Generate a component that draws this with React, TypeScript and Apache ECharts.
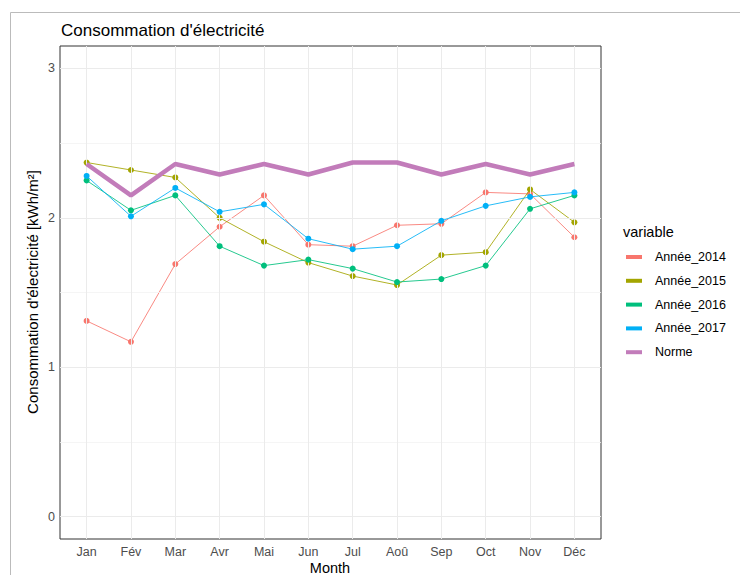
import React, { useEffect, useRef } from "react";
import * as echarts from "echarts";

const months = ["Jan", "Fév", "Mar", "Avr", "Mai", "Jun", "Jul", "Aoû", "Sep", "Oct", "Nov", "Déc"];
const yTicks = [0, 1, 2, 3];
const yMinorGrid = [0.5, 1.5, 2.5];

const annee2014 = [1.31, 1.17, 1.69, 1.94, 2.15, 1.82, 1.81, 1.95, 1.96, 2.17, 2.16, 1.87];
const annee2015 = [2.37, 2.32, 2.27, 2.0, 1.84, 1.7, 1.61, 1.55, 1.75, 1.77, 2.19, 1.97];
const annee2016 = [2.25, 2.05, 2.15, 1.81, 1.68, 1.72, 1.66, 1.57, 1.59, 1.68, 2.06, 2.15];
const annee2017 = [2.28, 2.01, 2.2, 2.04, 2.09, 1.86, 1.79, 1.81, 1.98, 2.08, 2.14, 2.17];
const norme = [2.36, 2.15, 2.36, 2.29, 2.36, 2.29, 2.37, 2.37, 2.29, 2.36, 2.29, 2.36];

const seriesNames = ["Année_2014", "Année_2015", "Année_2016", "Année_2017", "Norme"];
const seriesValues = [annee2014, annee2015, annee2016, annee2017, norme];
const colors = ["#F8766D", "#A3A500", "#00BF7D", "#00B0F6", "#C27CBA"];

const FONT = "Liberation Sans, Arial, sans-serif";

export default function App() {
  const ref = useRef<HTMLDivElement>(null);
  useEffect(() => {
    if (!ref.current) return;
    const chart = echarts.init(ref.current, undefined, { renderer: "svg" });
    const idx = months.map((_, i) => i);

    const lineSeries = seriesNames.map((name, k) => {
      const isNorme = name === "Norme";
      return {
        name,
        type: "line",
        z: 3 + k,
        data: seriesValues[k].map((v, i) => [i, v]),
        showSymbol: !isNorme,
        symbol: "circle",
        symbolSize: 6,
        itemStyle: { color: colors[k], borderWidth: 0 },
        lineStyle: { color: colors[k], width: isNorme ? 4.5 : 1, opacity: isNorme ? 1 : 0.85 },
        emphasis: { disabled: true },
      };
    });

    const gridSeries = {
      name: "grid",
      type: "line",
      data: [],
      z: 1,
      silent: true,
      markLine: {
        silent: true,
        symbol: "none",
        animation: false,
        label: { show: false },
        data: [
          ...yTicks.map((v) => ({ yAxis: v, lineStyle: { color: "#ebebeb", width: 1, type: "solid" } })),
          ...yMinorGrid.map((v) => ({ yAxis: v, lineStyle: { color: "#f2f2f2", width: 0.8, type: "solid" } })),
          ...idx.map((v) => ({ xAxis: v, lineStyle: { color: "#ebebeb", width: 1, type: "solid" } })),
        ],
      },
    };

    chart.setOption({
      animation: false,
      textStyle: { fontFamily: FONT },
      grid: {
        left: 60,
        top: 46,
        width: 541,
        height: 493,
        show: true,
        borderColor: "#333333",
        borderWidth: 1,
        backgroundColor: "#ffffff",
        containLabel: false,
      },
      xAxis: {
        type: "value",
        min: -0.6,
        max: 11.6,
        axisLine: { show: false },
        splitLine: { show: false },
        axisTick: { show: true, customValues: idx, length: 3, lineStyle: { color: "#333333" } },
        axisLabel: {
          customValues: idx,
          formatter: (v: number) => months[Math.round(v)] ?? "",
          color: "#4d4d4d",
          fontSize: 12.5,
          margin: 6,
          fontFamily: FONT,
        },
      },
      yAxis: {
        type: "value",
        min: -0.15,
        max: 3.15,
        axisLine: { show: false },
        splitLine: { show: false },
        axisTick: { show: true, customValues: yTicks, length: 3, lineStyle: { color: "#333333" } },
        axisLabel: {
          customValues: yTicks,
          formatter: (v: number) => String(v),
          color: "#4d4d4d",
          fontSize: 12.5,
          margin: 5,
          fontFamily: FONT,
        },
      },
      legend: {
        data: seriesNames,
        orient: "vertical",
        left: 626,
        top: 250,
        padding: 0,
        itemGap: 9.8,
        itemWidth: 16,
        itemHeight: 4,
        icon: "rect",
        selectedMode: false,
        textStyle: { color: "#000000", fontSize: 12.5, lineHeight: 14, fontFamily: FONT, padding: [0, 0, 0, 8] },
      },
      graphic: [
        { type: "line", shape: { x1: 10.5, y1: 12.5, x2: 740, y2: 12.5 }, style: { stroke: "#bbbbbb", lineWidth: 1 }, silent: true },
        { type: "line", shape: { x1: 10.5, y1: 12.5, x2: 10.5, y2: 575 }, style: { stroke: "#bbbbbb", lineWidth: 1 }, silent: true },
        {
          type: "text",
          x: 61,
          y: 30,
          style: { text: "Consommation d'électricité", font: `17px ${FONT}`, fill: "#000000", verticalAlign: "middle", align: "left" },
        },
        {
          type: "text",
          x: 32,
          y: 292,
          rotation: Math.PI / 2,
          style: { text: "Consommation d'électricité [kWh/m²]", font: `15px ${FONT}`, fill: "#000000", verticalAlign: "middle", align: "center" },
        },
        {
          type: "text",
          x: 330,
          y: 568,
          style: { text: "Month", font: `14.5px ${FONT}`, fill: "#000000", verticalAlign: "middle", align: "center" },
        },
        {
          type: "text",
          x: 623,
          y: 232,
          style: { text: "variable", font: `14.5px ${FONT}`, fill: "#000000", verticalAlign: "middle", align: "left" },
        },
      ],
      series: [gridSeries, ...lineSeries],
    });
    return () => chart.dispose();
  }, []);
  return <div ref={ref} style={{ position: "fixed", left: 0, top: 0, width: 740, height: 575, background: "#fff" }} />;
}
